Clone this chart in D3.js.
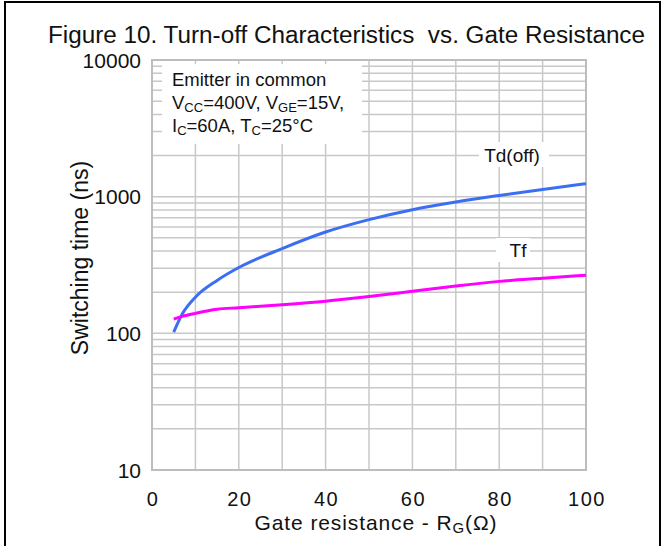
<!DOCTYPE html>
<html><head><meta charset="utf-8">
<script src="https://cdn.jsdelivr.net/npm/d3@7"></script>
<style>body{margin:0;background:#fff}svg{display:block;font-family:"Liberation Sans",Arial,sans-serif}</style>
</head><body><svg id="c" width="664" height="546"></svg>
<script>
const rg = [5, 7, 10, 15, 20, 30, 40, 50, 60, 70, 80, 90, 100];
const tdOff = [102, 139, 184, 244, 303, 417, 551, 679, 803, 914, 1020, 1130, 1245];
const tf = [127, 133, 140, 150, 154, 162, 172, 186, 203, 222, 240, 253, 266];
const xTicks = [0, 20, 40, 60, 80, 100];
const yTicks = [10, 100, 1000, 10000];
const title = "Figure 10. Turn-off Characteristics  vs. Gate Resistance";

const svg = d3.select("#c");
const L = 152, R = 586, T = 60, B = 470;
const x = d3.scaleLinear().domain([0, 100]).range([L, R]);
const y = d3.scaleLog().domain([10, 10000]).range([B, T]);

svg.append("rect").attr("x", 5).attr("y", 2).attr("width", 655).attr("height", 546)
  .attr("fill", "none").attr("stroke", "#000").attr("stroke-width", 2);

svg.append("text").attr("x", 48).attr("y", 43)
  .attr("font-size", 23).attr("fill", "#111").style("white-space", "pre")
  .attr("textLength", 597).attr("lengthAdjust", "spacingAndGlyphs").text(title);

// grid
const g = svg.append("g");
const minor = [];
[10, 100, 1000].forEach(d => { for (let k = 1; k <= 9; k++) if (k > 1 || d > 10) minor.push(d * k); });
g.selectAll("line.h").data(minor).join("line")
  .attr("x1", L).attr("x2", R).attr("y1", d => y(d)).attr("y2", d => y(d))
  .attr("stroke", "#c8c8c8").attr("stroke-width", 1.5);
g.selectAll("line.v").data(d3.range(10, 100, 10)).join("line")
  .attr("y1", T).attr("y2", B).attr("x1", d => x(d)).attr("x2", d => x(d))
  .attr("stroke", "#c8c8c8").attr("stroke-width", 1.5);
svg.append("rect").attr("x", L).attr("y", T).attr("width", R - L).attr("height", B - T)
  .attr("fill", "none").attr("stroke", "#bdbdbd").attr("stroke-width", 2);

// white label boxes
svg.append("rect").attr("x", 162).attr("y", 64).attr("width", 200).attr("height", 80).attr("fill", "#fff");
svg.append("rect").attr("x", 479).attr("y", 142).attr("width", 70).attr("height", 25).attr("fill", "#fff");
svg.append("rect").attr("x", 496).attr("y", 238).attr("width", 34).attr("height", 24).attr("fill", "#fff");

// curves
const line = d3.line().curve(d3.curveMonotoneX);
svg.append("path").attr("d", line(rg.map((v, i) => [x(v), y(tdOff[i])])))
  .attr("fill", "none").attr("stroke", "#3b6ef2").attr("stroke-width", 3);
svg.append("path").attr("d", line(rg.map((v, i) => [x(v), y(tf[i])])))
  .attr("fill", "none").attr("stroke", "#ff00ff").attr("stroke-width", 3);

// legend text
const lg = svg.append("g").attr("font-size", 18.5).attr("fill", "#111");
lg.append("text").attr("x", 172).attr("y", 86).text("Emitter in common");
const t2 = lg.append("text").attr("x", 172).attr("y", 109);
t2.append("tspan").text("V");
t2.append("tspan").attr("font-size", 13).attr("dy", 3).text("CC");
t2.append("tspan").attr("dy", -3).text("=400V, V");
t2.append("tspan").attr("font-size", 13).attr("dy", 3).text("GE");
t2.append("tspan").attr("dy", -3).text("=15V,");
const t3 = lg.append("text").attr("x", 172).attr("y", 132);
t3.append("tspan").text("I");
t3.append("tspan").attr("font-size", 13).attr("dy", 3).text("C");
t3.append("tspan").attr("dy", -3).text("=60A, T");
t3.append("tspan").attr("font-size", 13).attr("dy", 3).text("C");
t3.append("tspan").attr("dy", -3).text("=25°C");

svg.append("text").attr("x", 512).attr("y", 162).attr("text-anchor", "middle").attr("font-size", 19).attr("fill", "#111").text("Td(off)");
svg.append("text").attr("x", 518).attr("y", 257).attr("text-anchor", "middle").attr("font-size", 19).attr("fill", "#111").text("Tf");

// tick labels
svg.selectAll("text.yt").data(yTicks).join("text").attr("class", "yt")
  .attr("x", 141).attr("y", d => y(d) + 7.5).attr("text-anchor", "end")
  .attr("font-size", 21).attr("fill", "#111").text(d => d);
svg.selectAll("text.xt").data(xTicks).join("text").attr("class", "xt")
  .attr("x", d => x(d) + 1).attr("y", 506).attr("text-anchor", "middle")
  .attr("font-size", 20).attr("letter-spacing", 1.5).attr("fill", "#111").text(d => d);

svg.append("text").attr("transform", "translate(88,258) rotate(-90)").attr("text-anchor", "middle")
  .attr("font-size", 23).attr("fill", "#111").text("Switching time (ns)");
const xl = svg.append("text").attr("x", 376).attr("y", 530).attr("text-anchor", "middle")
  .attr("font-size", 21).attr("letter-spacing", 0.9).attr("fill", "#111");
xl.append("tspan").text("Gate resistance - R");
xl.append("tspan").attr("font-size", 15).attr("dy", 3).text("G");
xl.append("tspan").attr("dy", -3).text("(Ω)");
</script></body></html>
